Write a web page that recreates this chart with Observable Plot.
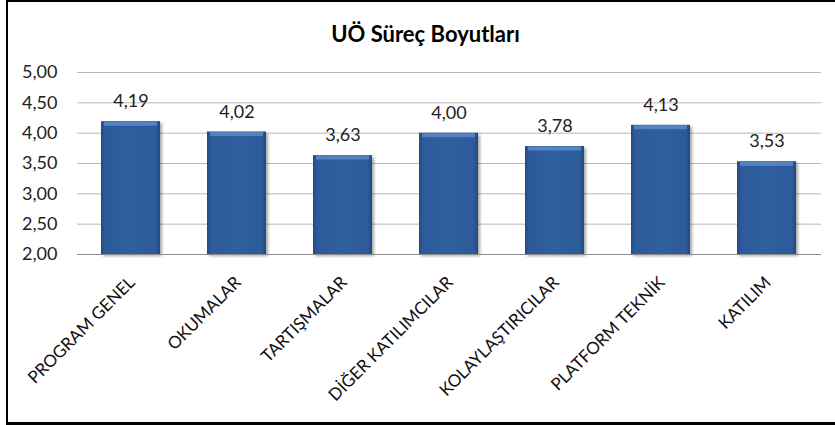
<!DOCTYPE html>
<html>
<head>
<meta charset="utf-8">
<script src="https://cdn.jsdelivr.net/npm/d3@7"></script>
<script src="https://cdn.jsdelivr.net/npm/@observablehq/plot@0.6"></script>
<style>
  html, body { margin: 0; padding: 0; background: #fff; overflow: hidden; }
  #wrap { position: relative; width: 835px; height: 425px; }
  #border { position: absolute; left: 6px; top: 0; width: 900px; height: 420px;
            border-style: solid; border-color: #000; border-width: 2px 0 3px 2px; pointer-events: none; }
  .bars { filter: drop-shadow(2px 2px 1.5px rgba(0,0,0,0.35)); }
</style>
</head>
<body>
<div id="wrap"><div id="border"></div></div>
<script>
const title = "UÖ Süreç Boyutları";
const categories = ["PROGRAM GENEL", "OKUMALAR", "TARTIŞMALAR", "DİĞER KATILIMCILAR", "KOLAYLAŞTIRICILAR", "PLATFORM TEKNİK", "KATILIM"];
const values = [4.19, 4.02, 3.63, 4.00, 3.78, 4.13, 3.53];
const yTicks = [2.0, 2.5, 3.0, 3.5, 4.0, 4.5, 5.0];

const fmt = v => d3.format(".2f")(v).replace(".", ",");
const data = categories.map((c, i) => ({category: c, value: values[i]}));
const font = "Lato, 'Open Sans', sans-serif";

const chart = Plot.plot({
  width: 835,
  height: 425,
  marginTop: 72,
  marginBottom: 171,
  marginLeft: 77,
  marginRight: 14,
  style: {fontFamily: font, fontSize: "17px", color: "#222", background: "transparent", overflow: "visible"},
  x: {domain: categories, paddingInner: 0.44, paddingOuter: 0.22, axis: null},
  y: {domain: [2, 5], ticks: yTicks, tickFormat: fmt, label: null},
  marks: [
    Plot.ruleY(yTicks.filter(t => t > 2), {stroke: "#b8b8b8", strokeWidth: 1}),
    Plot.axisY({ticks: yTicks, tickFormat: fmt, tickSize: 0, tickPadding: 20, label: null, fontSize: 18, fill: "#222"}),
    Plot.barY(data, {x: "category", y1: 2, y2: "value", fill: "url(#barGrad)", className: "bars"}),
    Plot.tickY(data, {x: "category", y: "value", stroke: "#5d8bc8", strokeWidth: 4, dy: 2, inset: 3, strokeOpacity: 0.85}),
    Plot.ruleY([2], {stroke: "#8c8c8c", strokeWidth: 1}),
    Plot.text(data, {x: "category", y: "value", text: d => fmt(d.value), dy: -20, fontSize: 18, fill: "#222"}),
    Plot.text(categories, {x: d => d, y: () => 2, text: d => d, rotate: -45, textAnchor: "end", lineAnchor: "bottom", dx: 5, dy: 29, fontSize: 17, fill: "#111"}),
    Plot.text([title], {frameAnchor: "top", text: d => d, lineAnchor: "bottom", dx: -24, dy: -31, fontSize: 22, fontWeight: "bold", fill: "#000"})
  ]
});

const svg = d3.select(chart);
const defs = svg.insert("defs", ":first-child");
const g = defs.append("linearGradient").attr("id", "barGrad").attr("x1", "0").attr("x2", "1").attr("y1", "0").attr("y2", "0");
g.append("stop").attr("offset", "0").attr("stop-color", "#244c86");
g.append("stop").attr("offset", "0.07").attr("stop-color", "#2c5a9a");
g.append("stop").attr("offset", "0.5").attr("stop-color", "#305f9f");
g.append("stop").attr("offset", "0.93").attr("stop-color", "#2c5a9a");
g.append("stop").attr("offset", "1").attr("stop-color", "#224980");

document.getElementById("wrap").insertBefore(chart, document.getElementById("border"));
</script>
</body>
</html>
